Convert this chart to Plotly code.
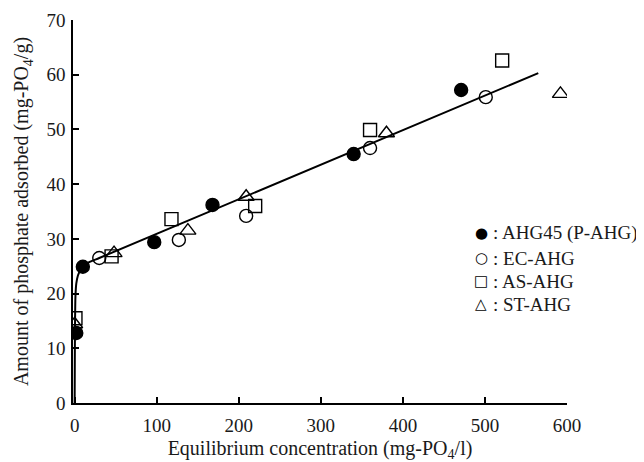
import plotly.graph_objects as go

# Data
ahg45_x = [2, 10, 97, 168, 340, 471]
ahg45_y = [12.8, 24.9, 29.4, 36.2, 45.5, 57.2]

ec_x = [30, 127, 209, 360, 501]
ec_y = [26.5, 29.8, 34.2, 46.6, 55.9]

as_x = [1, 45, 118, 220, 360, 521]
as_y = [15.5, 26.8, 33.6, 36.0, 49.9, 62.6]

st_x = [0, 48, 138, 209, 380, 592]
st_y = [14.4, 27.4, 31.5, 37.7, 49.3, 56.5]

fit_x = [0, 0.2, 0.5, 1, 2, 4, 7, 11, 20, 30, 565]
fit_y = [0, 8, 15, 19.5, 21.8, 23.3, 24.3, 25.2, 25.9, 26.5, 60.3]

x_ticks = [0, 100, 200, 300, 400, 500, 600]
y_ticks = [0, 10, 20, 30, 40, 50, 60, 70]

legend_symbols = ["●", "○", "□", "△"]
legend_labels = [": AHG45 (P-AHG)", ": EC-AHG", ": AS-AHG", ": ST-AHG"]

FONT = "Liberation Serif"
TXT = "#1a1a1a"

fig = go.Figure()
fig.add_trace(go.Scatter(x=fit_x, y=fit_y, mode="lines",
                         line=dict(color="black", width=2, shape="spline", smoothing=0.6),
                         showlegend=False, hoverinfo="skip"))
mk_line = dict(color="black", width=1.4)
fig.add_trace(go.Scatter(x=ahg45_x, y=ahg45_y, mode="markers", name=legend_labels[0], showlegend=False,
                         marker=dict(symbol="circle", size=13, color="black", line=mk_line)))
fig.add_trace(go.Scatter(x=ec_x, y=ec_y, mode="markers", name=legend_labels[1], showlegend=False,
                         marker=dict(symbol="circle-open", size=13, color="black", line=mk_line)))
fig.add_trace(go.Scatter(x=as_x, y=as_y, mode="markers", name=legend_labels[2], showlegend=False,
                         marker=dict(symbol="square-open", size=13, color="black", line=mk_line)))
fig.add_trace(go.Scatter(x=st_x, y=st_y, mode="markers", name=legend_labels[3], showlegend=False,
                         marker=dict(symbol="triangle-up-open", size=14, color="black", line=mk_line)))

axis_common = dict(showgrid=False, zeroline=False, showline=True, linecolor="black", linewidth=1.5,
                   ticks="inside", ticklen=6, tickwidth=1.5, tickcolor="black", mirror=False,
                   automargin=False,
                   tickfont=dict(family=FONT, size=19, color=TXT))

fig.update_xaxes(range=[-2, 600], tickvals=x_ticks, ticklabelstandoff=4,
                 title=dict(text="Equilibrium concentration (mg-PO<sub>4</sub>/l)",
                            font=dict(family=FONT, size=20, color=TXT), standoff=6),
                 **axis_common)
fig.update_yaxes(range=[0, 70], tickvals=y_ticks, ticklabelstandoff=2,
                 title=dict(text="Amount of phosphate adsorbed (mg-PO<sub>4</sub>/g)",
                            font=dict(family=FONT, size=20, color=TXT), standoff=12),
                 **axis_common)

# page body has an 8px margin, so the figure is offset by (8, 8) on screen
OFF = 8
W0, W1 = 73, 567     # plot area on screen
H0, H1 = 20, 403
rows_px = [233, 258, 281, 304]
annotations = []
for sym, lab, py in zip(legend_symbols, legend_labels, rows_px):
    yy = (H1 - py) / (H1 - H0)
    annotations.append(dict(x=(481 - W0) / (W1 - W0), y=yy, xref="paper", yref="paper",
                            text=sym, showarrow=False, xanchor="center", yanchor="middle",
                            font=dict(family="DejaVu Sans", size=15, color="black")))
    annotations.append(dict(x=(491 - W0) / (W1 - W0), y=yy, xref="paper", yref="paper",
                            text=lab, showarrow=False, xanchor="left", yanchor="middle",
                            font=dict(family=FONT, size=19, color=TXT)))

fig.update_layout(
    width=644, height=462,
    margin=dict(l=W0 - OFF, r=644 - (W1 - OFF), t=H0 - OFF, b=462 - (H1 - OFF)),
    paper_bgcolor="white", plot_bgcolor="white",
    showlegend=False,
    annotations=annotations,
)

fig.write_html("out.html")
